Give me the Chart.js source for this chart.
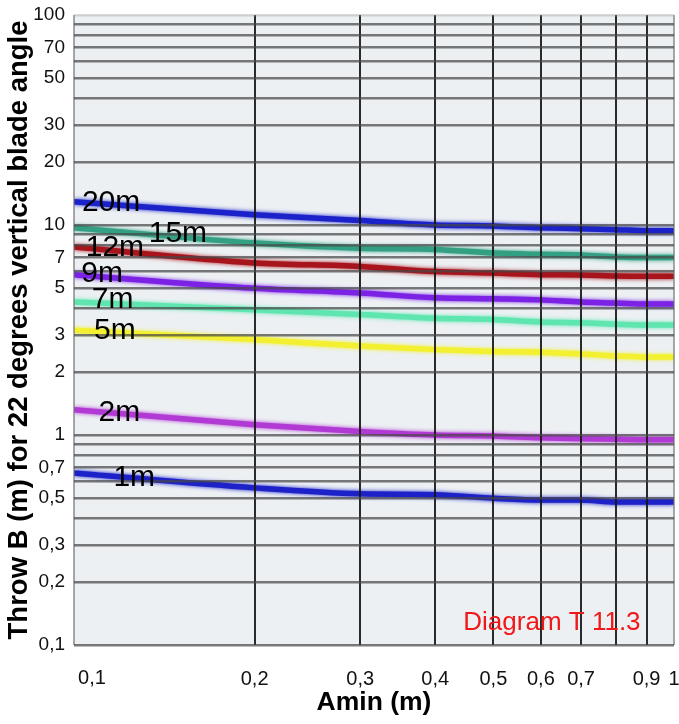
<!DOCTYPE html>
<html>
<head>
<meta charset="utf-8">
<title>Throw B</title>
<script src="https://cdn.jsdelivr.net/npm/chart.js@4.4.1/dist/chart.umd.min.js"></script>
<style>
  html, body { margin: 0; padding: 0; background: #fff; }
</style>
</head>
<body>
<canvas id="throwChart" width="679" height="724"></canvas>
<script>
// Amin (m) sample points
const aminValues = [0.1, 0.2, 0.3, 0.4, 0.5, 0.6, 0.7, 0.8, 0.9, 1];

// throw B (m) per Amin, one curve per blade setting
const throw20m = [12.9, 11.2, 10.5, 10.0, 9.9, 9.7, 9.6, 9.5, 9.4, 9.4];
const throw15m = [9.7, 8.2, 7.75, 7.65, 7.35, 7.25, 7.2, 7.05, 7.0, 7.0];
const throw12m = [7.85, 6.6, 6.35, 6.0, 5.9, 5.8, 5.78, 5.72, 5.7, 5.7];
const throw9m = [5.8, 5.0, 4.75, 4.5, 4.45, 4.4, 4.3, 4.25, 4.2, 4.2];
const throw7m = [4.3, 3.95, 3.75, 3.6, 3.55, 3.45, 3.42, 3.37, 3.34, 3.34];
const throw5m = [3.15, 2.85, 2.65, 2.55, 2.5, 2.48, 2.43, 2.38, 2.35, 2.35];
const throw2m = [1.32, 1.12, 1.04, 1.0, 0.99, 0.97, 0.96, 0.955, 0.95, 0.95];
const throw1m = [0.66, 0.56, 0.525, 0.52, 0.5, 0.49, 0.49, 0.48, 0.48, 0.48];

const seriesNames = ['20m', '15m', '12m', '9m', '7m', '5m', '2m', '1m'];
const seriesData = [throw20m, throw15m, throw12m, throw9m, throw7m, throw5m, throw2m, throw1m];
const seriesColors = ['#1b22c9', '#33a083', '#a8141c', '#7b22e4', '#5fe6b0', '#f2f030', '#b23ad4', '#1c22c8'];

// where each curve name sits (Amin, Throw)
const nameAtX = [0.1153, 0.149, 0.117, 0.1114, 0.116, 0.117, 0.119, 0.126];
const nameAtY = [12.7, 9.1, 7.8, 5.85, 4.4, 3.13, 1.28, 0.625];

// grid lines and the ones that carry a label
const xGridValues = [0.1, 0.2, 0.3, 0.4, 0.5, 0.6, 0.7, 0.8, 0.9, 1];
const xTickLabels = [0.2, 0.3, 0.4, 0.5, 0.6, 0.7, 0.9, 1];
const yDecades = [0.1, 1, 10];
const ySteps = [1, 2, 3, 4, 5, 6, 7, 8, 9];
const yTickLabels = [100, 70, 50, 30, 20, 10, 7, 5, 3, 2, 1, 0.7, 0.5, 0.3, 0.2, 0.1];

const FONT = '"Liberation Sans", Arial, Helvetica, sans-serif';

function same(a, b) {
  return Math.abs(Math.log10(a) - Math.log10(b)) < 1e-6;
}

function commaLabel(list, value) {
  const hit = list.find(t => same(t, value));
  return hit === undefined ? '' : String(hit).replace('.', ',');
}

const yGridValues = [];
yDecades.forEach(d => ySteps.forEach(s => yGridValues.push(+(d * s).toPrecision(3))));
yGridValues.push(100);

const plotBackground = {
  id: 'plotBackground',
  beforeDraw(chart) {
    const {ctx, chartArea: a} = chart;
    ctx.save();
    ctx.fillStyle = '#ecf0f3';
    ctx.fillRect(a.left, a.top, a.right - a.left, a.bottom - a.top);
    ctx.restore();
  }
};

// soft edge around each curve
const curveGlow = {
  id: 'curveGlow',
  beforeDatasetDraw(chart, args) {
    const ctx = chart.ctx;
    ctx.save();
    ctx.shadowColor = args.meta.dataset.options.borderColor;
    ctx.shadowBlur = 4;
  },
  afterDatasetDraw(chart) {
    chart.ctx.restore();
  }
};

const curveNames = {
  id: 'curveNames',
  afterDraw(chart) {
    const {ctx, scales: {x, y}} = chart;
    ctx.save();
    ctx.textAlign = 'center';
    ctx.textBaseline = 'middle';
    ctx.fillStyle = '#000';
    ctx.font = '30px ' + FONT;
    seriesNames.forEach((name, i) => {
      ctx.fillText(name, x.getPixelForValue(nameAtX[i]), y.getPixelForValue(nameAtY[i]));
    });
    // first x label sits inside the left edge
    ctx.fillStyle = '#111';
    ctx.font = '20px ' + FONT;
    ctx.fillText('0,1', x.getPixelForValue(0.1) + 18, y.bottom + 33);
    ctx.fillStyle = '#f01818';
    ctx.font = '26px ' + FONT;
    ctx.fillText('Diagram T 11.3', x.getPixelForValue(0.626), y.getPixelForValue(0.128));
    ctx.restore();
  }
};

const datasets = seriesNames.map((name, i) => ({
  label: name,
  data: aminValues.map((a, j) => ({x: a, y: seriesData[i][j]})),
  borderColor: seriesColors[i],
  borderWidth: 5.5,
  pointRadius: 0,
  cubicInterpolationMode: 'monotone',
  fill: false
}));

new Chart(document.getElementById('throwChart'), {
  type: 'line',
  data: {datasets: datasets},
  plugins: [plotBackground, curveGlow, curveNames],
  options: {
    responsive: false,
    animation: false,
    layout: {padding: {top: 15, right: 5, left: 0, bottom: 0}},
    plugins: {legend: {display: false}, tooltip: {enabled: false}},
    scales: {
      x: {
        type: 'logarithmic',
        min: 0.1,
        max: 1,
        afterBuildTicks(scale) { scale.ticks = xGridValues.map(v => ({value: v})); },
        afterFit(scale) {
          scale.height = 79;
          scale.paddingLeft = 0;
          scale.paddingRight = 0;
        },
        border: {display: false},
        grid: {
          z: 1,
          drawTicks: false,
          lineWidth: 2,
          color: c => (same(c.tick.value, 0.1) || same(c.tick.value, 1)) ? 'rgba(110,110,110,0.6)' : 'rgba(20,20,20,0.9)'
        },
        ticks: {
          autoSkip: false,
          maxRotation: 0,
          padding: 22,
          color: '#111',
          font: {family: FONT, size: 20},
          callback: value => commaLabel(xTickLabels, value)
        },
        title: {
          display: true,
          text: 'Amin (m)',
          color: '#000',
          font: {family: FONT, size: 26.5, weight: 'bold'},
          padding: {top: 0, bottom: 5}
        }
      },
      y: {
        type: 'logarithmic',
        min: 0.1,
        max: 100,
        afterBuildTicks(scale) { scale.ticks = yGridValues.map(v => ({value: v})); },
        afterFit(scale) {
          scale.width = 74;
          scale.paddingTop = 0;
          scale.paddingBottom = 0;
        },
        border: {display: false},
        grid: {
          z: 1,
          drawTicks: false,
          lineWidth: 2.5,
          color: c => same(c.tick.value, 100) ? 'rgba(160,160,160,0.4)' : 'rgba(70,70,70,0.72)'
        },
        ticks: {
          autoSkip: false,
          padding: 9,
          color: '#111',
          font: {family: FONT, size: 19},
          callback: value => commaLabel(yTickLabels, value)
        },
        title: {
          display: true,
          text: 'Throw B (m) for 22 degrees vertical blade angle',
          color: '#000',
          font: {family: FONT, size: 27.5, weight: 'bold'},
          padding: {top: 3, bottom: 0}
        }
      }
    }
  }
});
</script>
</body>
</html>
